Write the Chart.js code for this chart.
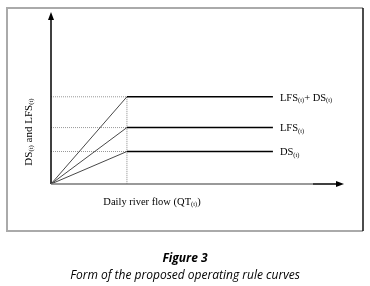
<!DOCTYPE html>
<html>
<head>
<meta charset="utf-8">
<script src="https://cdn.jsdelivr.net/npm/chart.js@4/dist/chart.umd.min.js"></script>
<style>
html,body{margin:0;padding:0;background:#fff;}
#wrap{width:370px;height:286px;position:relative;}
</style>
</head>
<body>
<div id="wrap"><canvas id="c" width="370" height="286"></canvas></div>
<script>
// Data (arbitrary units)
const breakX = 26;      // flow where curves become flat
const endX = 76;        // end of flat segments
const seriesNames = ['LFS+DS', 'LFS', 'DS'];
const levels = [51, 33, 19];
const curveLabels = [
  [['LFS','n'],['(t)','s'],['+ DS','n'],['(t)','s']],
  [['LFS','n'],['(t)','s']],
  [['DS','n'],['(t)','s']]
];
const xAxisLabel = [['Daily river flow (QT','n'],['(t)','s'],[')','n']];
const yAxisLabel = [['DS','n'],['(t)','s'],[' and LFS','n'],['(t)','s']];
const captionTitle = 'Figure 3';
const captionText = 'Form of the proposed operating rule curves';

const datasets = [];
levels.forEach((lv, i) => {
  datasets.push({
    label: seriesNames[i],
    data: [{x:0,y:0},{x:breakX,y:lv},{x:endX,y:lv}],
    borderColor: '#000',
    borderWidth: 1.5,
    pointRadius: 0,
    segment: {
      borderColor: ctx => ctx.p0DataIndex === 0 ? '#333' : '#000',
      borderWidth: ctx => ctx.p0DataIndex === 0 ? 0.9 : 1.6
    }
  });
  datasets.push({
    label: seriesNames[i] + ' guide',
    data: [{x:0,y:lv},{x:breakX,y:lv}],
    borderColor: '#999',
    borderWidth: 1,
    borderDash: [1,1],
    pointRadius: 0
  });
});
datasets.push({
  label: 'vertical guide',
  data: [{x:breakX,y:Math.max(...levels)},{x:breakX,y:0}],
  borderColor: '#888',
  borderWidth: 1,
  borderDash: [1,1],
  pointRadius: 0
});

function drawRich(ctx, parts, x, y, size, align) {
  const subSize = size * 0.62;
  let w = 0;
  parts.forEach(p => {
    ctx.font = (p[1]==='s' ? subSize : size) + 'px "Liberation Serif"';
    w += ctx.measureText(p[0]).width;
  });
  let cx = align === 'center' ? x - w/2 : x;
  parts.forEach(p => {
    ctx.font = (p[1]==='s' ? subSize : size) + 'px "Liberation Serif"';
    ctx.fillText(p[0], cx, p[1]==='s' ? y + size*0.22 : y);
    cx += ctx.measureText(p[0]).width;
  });
}

const deco = {
  id: 'deco',
  beforeDraw(chart) {
    const c = chart.ctx;
    c.save();
    c.fillStyle = '#fff';
    c.fillRect(0,0,chart.width,chart.height);
    // frame
    c.strokeStyle = '#aaa';
    c.lineWidth = 2;
    c.beginPath();
    c.moveTo(363,8); c.lineTo(7,8); c.lineTo(7,231); c.lineTo(363,231);
    c.stroke();
    c.strokeStyle = '#111';
    c.lineWidth = 1.5;
    c.beginPath(); c.moveTo(363,8); c.lineTo(363,231); c.stroke();
    c.restore();
  },
  afterDatasetsDraw(chart) {
    const c = chart.ctx;
    const xs = chart.scales.x, ys = chart.scales.y;
    const ox = xs.getPixelForValue(0), oy = ys.getPixelForValue(0);
    const xe = xs.getPixelForValue(xs.max), yt = ys.getPixelForValue(ys.max);
    c.save();
    // axes
    c.lineWidth = 1.5;
    c.strokeStyle = '#000';
    c.beginPath(); c.moveTo(ox, oy); c.lineTo(ox, yt + 2); c.stroke();
    c.strokeStyle = '#777';
    c.beginPath(); c.moveTo(ox, oy); c.lineTo(xe - 30, oy); c.stroke();
    c.strokeStyle = '#000';
    c.beginPath(); c.moveTo(xe - 30, oy); c.lineTo(xe - 2, oy); c.stroke();
    c.fillStyle = '#000';
    c.beginPath(); c.moveTo(ox, yt - 1); c.lineTo(ox - 3, yt + 7); c.lineTo(ox + 3, yt + 7); c.closePath(); c.fill();
    c.beginPath(); c.moveTo(xe + 1, oy); c.lineTo(xe - 7, oy - 3); c.lineTo(xe - 7, oy + 3); c.closePath(); c.fill();
    // curve labels
    c.fillStyle = '#000';
    c.textBaseline = 'middle';
    const lx = xs.getPixelForValue(endX) + 7;
    levels.forEach((lv, i) => {
      drawRich(c, curveLabels[i], lx, ys.getPixelForValue(lv) + 1, 10.5, 'left');
    });
    // x axis label
    drawRich(c, xAxisLabel, 152, 202, 10.5, 'center');
    // y axis label
    c.save();
    c.translate(29, 132);
    c.rotate(-Math.PI/2);
    drawRich(c, yAxisLabel, 0, 0, 11, 'center');
    c.restore();
    // caption
    c.textAlign = 'center';
    c.fillStyle = '#000';
    c.font = 'italic bold 12px "Open Sans"';
    c.fillText(captionTitle, 185, 259);
    c.font = 'italic 12px "Open Sans"';
    c.fillText(captionText, 185, 276);
    c.restore();
  }
};

new Chart(document.getElementById('c'), {
  type: 'line',
  data: { datasets },
  options: {
    responsive: false,
    animation: false,
    devicePixelRatio: 1,
    layout: { padding: { left: 51, right: 27, top: 13, bottom: 102 } },
    plugins: { legend: { display: false }, tooltip: { enabled: false } },
    scales: {
      x: { type: 'linear', min: 0, max: 100, display: false },
      y: { type: 'linear', min: 0, max: 100, display: false }
    }
  },
  plugins: [deco]
});
</script>
</body>
</html>
